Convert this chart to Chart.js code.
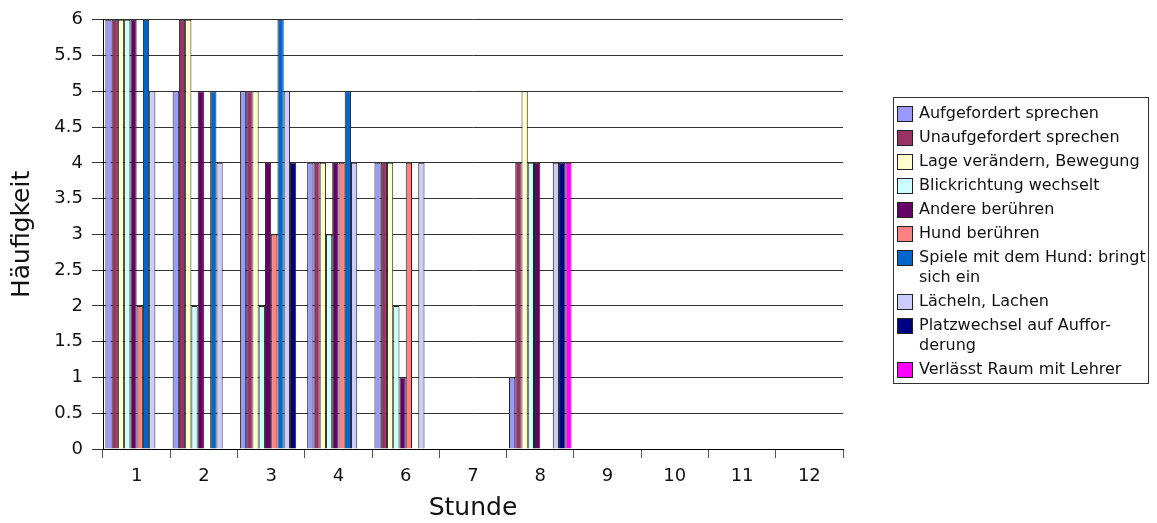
<!DOCTYPE html>
<html>
<head>
<meta charset="utf-8">
<script src="https://cdn.jsdelivr.net/npm/chart.js@4/dist/chart.umd.min.js"></script>
<style>
  body { margin: 0; background: #fff; font-family: 'DejaVu Sans', sans-serif; }
  #wrap { position: relative; width: 1157px; height: 523px; }
  #legende {
    position: absolute; left: 893px; top: 97px; width: 256px;
    border: 1px solid #333; padding: 5px 0 4px 3px; box-sizing: border-box;
    font-size: 16px; color: #111;
  }
  .item { display: flex; align-items: flex-start; margin-bottom: 4px; }
  .item:last-child { margin-bottom: 0; }
  .box { width: 14px; height: 14px; border: 1px solid #222; margin: 3px 6px 0 0; flex: none; }
  .txt { line-height: 20px; white-space: pre-line; }
</style>
</head>
<body>
<div id="wrap">
  <canvas id="chart" width="1157" height="523"></canvas>
  <div id="legende"></div>
</div>
<script>
const stunden = ['1', '2', '3', '4', '6', '7', '8', '9', '10', '11', '12'];

const aufgefordert   = [6, 5, 5, 4, 4, 0, 1, 0, 0, 0, 0];
const unaufgefordert = [6, 6, 5, 4, 4, 0, 4, 0, 0, 0, 0];
const lage           = [6, 6, 5, 4, 4, 0, 5, 0, 0, 0, 0];
const blick          = [6, 2, 2, 3, 2, 0, 4, 0, 0, 0, 0];
const andere         = [6, 5, 4, 4, 1, 0, 4, 0, 0, 0, 0];
const hund           = [2, 0, 3, 4, 4, 0, 0, 0, 0, 0, 0];
const spiele         = [6, 5, 6, 5, 0, 0, 0, 0, 0, 0, 0];
const laecheln       = [5, 4, 5, 4, 4, 0, 4, 0, 0, 0, 0];
const platzwechsel   = [0, 0, 4, 0, 0, 0, 4, 0, 0, 0, 0];
const verlaesst      = [0, 0, 0, 0, 0, 0, 4, 0, 0, 0, 0];

const serien = [
  ['Aufgefordert sprechen', aufgefordert, '#9999FF'],
  ['Unaufgefordert sprechen', unaufgefordert, '#993366'],
  ['Lage verändern, Bewegung', lage, '#FFFFCC'],
  ['Blickrichtung wechselt', blick, '#CCFFFF'],
  ['Andere berühren', andere, '#660066'],
  ['Hund berühren', hund, '#FF8080'],
  ['Spiele mit dem Hund: bringt\nsich ein', spiele, '#0066CC'],
  ['Lächeln, Lachen', laecheln, '#CCCCFF'],
  ['Platzwechsel auf Auffor-\nderung', platzwechsel, '#000080'],
  ['Verlässt Raum mit Lehrer', verlaesst, '#FF00FF']
];

const schrift = "'DejaVu Sans', sans-serif";

new Chart(document.getElementById('chart'), {
  type: 'bar',
  data: {
    labels: stunden,
    datasets: serien.map(([name, werte, farbe]) => ({
      label: name,
      data: werte,
      backgroundColor: farbe,
      borderColor: '#222',
      borderWidth: 1,
      categoryPercentage: 0.93,
      barPercentage: 1
    }))
  },
  options: {
    responsive: false,
    animation: false,
    layout: { padding: { top: 18, right: 314, left: 0, bottom: 0 } },
    plugins: { legend: { display: false }, tooltip: { enabled: false } },
    scales: {
      x: {
        afterFit: s => { s.height = 74; },
        grid: { display: true, drawOnChartArea: false, offset: true, tickLength: 9, color: '#555' },
        border: { color: '#000' },
        ticks: { color: '#111', font: { family: schrift, size: 18 }, padding: 8, maxRotation: 0 },
        title: { display: true, text: 'Stunde', color: '#111', font: { family: schrift, size: 25 }, padding: 0 }
      },
      y: {
        min: 0,
        max: 6,
        afterFit: s => { s.width = 103; },
        grid: { color: '#333', tickLength: 11 },
        border: { color: '#000' },
        ticks: {
          stepSize: 0.5,
          color: '#111',
          padding: 9,
          font: { family: schrift, size: 18 },
          callback: v => String(v)
        },
        title: { display: true, text: 'Häufigkeit', color: '#111', font: { family: schrift, size: 25 }, padding: { top: 7, bottom: 0 } }
      }
    }
  }
});

// Legende als HTML neben dem Diagramm
const legende = document.getElementById('legende');
serien.forEach(([name, , farbe]) => {
  const item = document.createElement('div');
  item.className = 'item';
  item.innerHTML = '<div class="box" style="background:' + farbe + '"></div><div class="txt"></div>';
  item.querySelector('.txt').textContent = name;
  legende.appendChild(item);
});
</script>
</body>
</html>
